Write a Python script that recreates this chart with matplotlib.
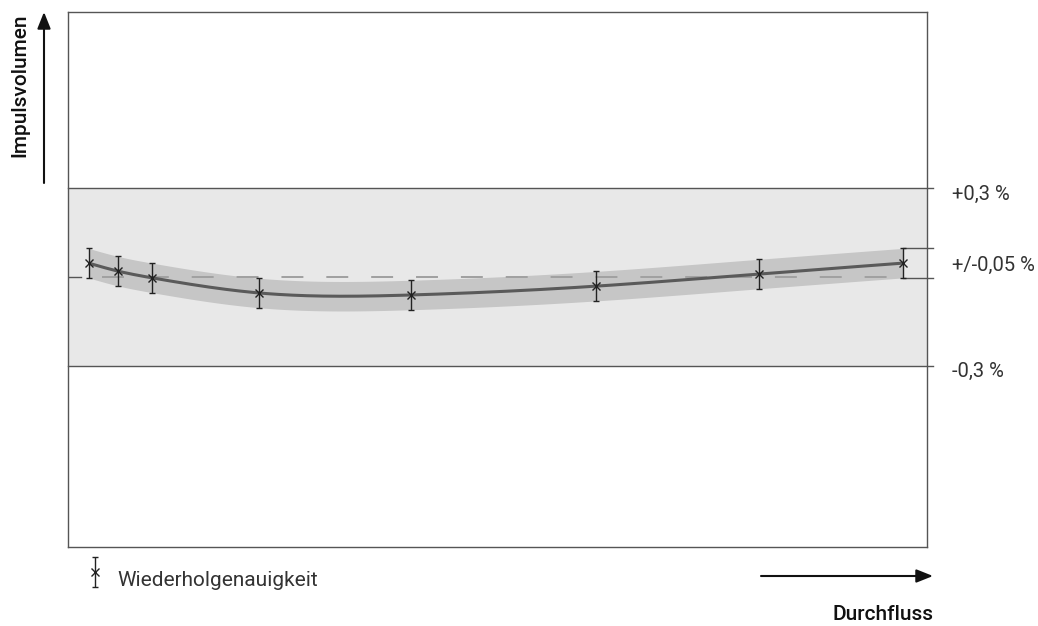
import numpy as np
import matplotlib
matplotlib.use("Agg")
import matplotlib.pyplot as plt
from matplotlib.transforms import blended_transform_factory, offset_copy

plt.rcParams['font.family'] = ['Roboto', 'DejaVu Sans']
plt.rcParams['lines.scale_dashes'] = False

# Messpunkte: Durchfluss (relativ, 0..100) und Abweichung Impulsvolumen in %
flow = [2.4, 5.8, 9.8, 22.2, 39.9, 61.5, 80.4, 97.2]
deviation = [0.047, 0.020, -0.003, -0.054, -0.061, -0.031, 0.010, 0.047]
repeatability = 0.05          # Wiederholgenauigkeit (+/-)
band_halfwidth = 0.05         # Streuband um die Kennlinie
limit = 0.3                   # Fehlergrenze +/-0,3 %

limit_labels = ['+0,3 %', '+/-0,05 %', '-0,3 %']
x_label = 'Durchfluss'
y_label = 'Impulsvolumen'
legend_label = 'Wiederholgenauigkeit'


def natural_spline(x, y, xs):
    # natuerlicher kubischer Spline fuer die glatte Kennlinie
    x = np.asarray(x, float)
    y = np.asarray(y, float)
    n = len(x)
    h = np.diff(x)
    A = np.zeros((n, n))
    b = np.zeros(n)
    A[0, 0] = A[-1, -1] = 1
    for i in range(1, n - 1):
        A[i, i - 1] = h[i - 1]
        A[i, i] = 2 * (h[i - 1] + h[i])
        A[i, i + 1] = h[i]
        b[i] = 3 * ((y[i + 1] - y[i]) / h[i] - (y[i] - y[i - 1]) / h[i - 1])
    c = np.linalg.solve(A, b)
    out = np.empty_like(xs)
    for k, xv in enumerate(xs):
        i = min(max(np.searchsorted(x, xv) - 1, 0), n - 2)
        dx = xv - x[i]
        bi = (y[i + 1] - y[i]) / h[i] - h[i] * (2 * c[i] + c[i + 1]) / 3
        di = (c[i + 1] - c[i]) / (3 * h[i])
        out[k] = y[i] + bi * dx + c[i] * dx ** 2 + di * dx ** 3
    return out


fig = plt.figure(figsize=(10.38, 6.26), dpi=100)
ax = fig.add_axes([68 / 1038, 79 / 626, 859 / 1038, 535 / 626])
ax.set_xlim(0, 100)
ax.set_ylim(-0.915, 0.898)
ax.set_xticks([])
ax.set_yticks([])
for sp in ax.spines.values():
    sp.set_color('#555555')
    sp.set_linewidth(1.0)

# Toleranzband +/-0,3 %
ax.axhspan(-limit, limit, color='#e8e8e8', zorder=0, lw=0)
tr = blended_transform_factory(ax.transAxes, ax.transData)
xr = 1 + 6 / 859
for yv in (limit, -limit):
    ax.plot([0, xr], [yv, yv], color='#555555', lw=1.0, transform=tr, clip_on=False, zorder=1)

# Kennlinie mit Streuband
xs = np.linspace(flow[0], flow[-1], 400)
ys = natural_spline(flow, deviation, xs)
ax.fill_between(xs, ys - band_halfwidth, ys + band_halfwidth, color='#c6c6c6', lw=0, zorder=2)

# Nulllinie (ueber dem Streuband)
ax.plot([0, 13 / 859], [0, 0], color='#555555', lw=1.0, transform=tr, zorder=1)
ax.plot([flow[0] + 1.6, flow[-1]], [0, 0], color='#a0a0a0', lw=1.4,
        dashes=(15.8, 16.5), zorder=2.5)

ax.plot(xs, ys, color='#5a5a5a', lw=2.2, zorder=3, solid_capstyle='butt')

ax.errorbar(flow, deviation, yerr=repeatability, fmt='x', color='#222222', ms=6,
            mew=1.0, elinewidth=1.0, capsize=2.5, capthick=1.0, zorder=4)

# Klammer fuer die Wiederholgenauigkeit am letzten Punkt
for yv in (deviation[-1] + repeatability, deviation[-1] - repeatability):
    ax.plot([flow[-1], 100 + 6 / 859 * 100], [yv, yv], color='#555555', lw=1.0,
            clip_on=False, zorder=1)

label_y = [limit, deviation[-1], -limit]
label_shift = [-4.5, -2, -4.5]
for txt, yv, dy in zip(limit_labels, label_y, label_shift):
    ax.text(100 + 25 / 859 * 100, yv, txt, fontsize=14.5, color='#333333',
            va='center', ha='left', clip_on=False,
            transform=offset_copy(ax.transData, fig=fig, y=dy, units='points'))

# Achsenpfeile, Beschriftungen und Legende in Pixelkoordinaten
ov = fig.add_axes([0, 0, 1, 1], facecolor='none')
ov.set_xlim(0, 1038)
ov.set_ylim(626, 0)
ov.axis('off')

arrow = dict(arrowstyle='-|>,head_length=1.0,head_width=0.4', color='#111111', lw=1.5,
             shrinkA=0, shrinkB=0)
ov.annotate('', xy=(44, 12), xytext=(44, 183), arrowprops=arrow)
ov.annotate('', xy=(933, 576), xytext=(761, 576), arrowprops=arrow)
ov.text(20, 85, y_label, rotation=90, fontsize=15, fontweight='medium',
        ha='center', va='center', color='#111111')
ov.text(933, 615, x_label, fontsize=15, fontweight='medium',
        ha='right', va='center', color='#111111')

ov.errorbar([95], [572], yerr=[[15], [15]], fmt='x', color='#222222', ms=5.5, mew=1.0,
            elinewidth=1.0, capsize=2.5, capthick=1.0)
ov.text(117, 580, legend_label, fontsize=15,
        ha='left', va='center', color='#333333')

fig.savefig('out.png', dpi=100)
